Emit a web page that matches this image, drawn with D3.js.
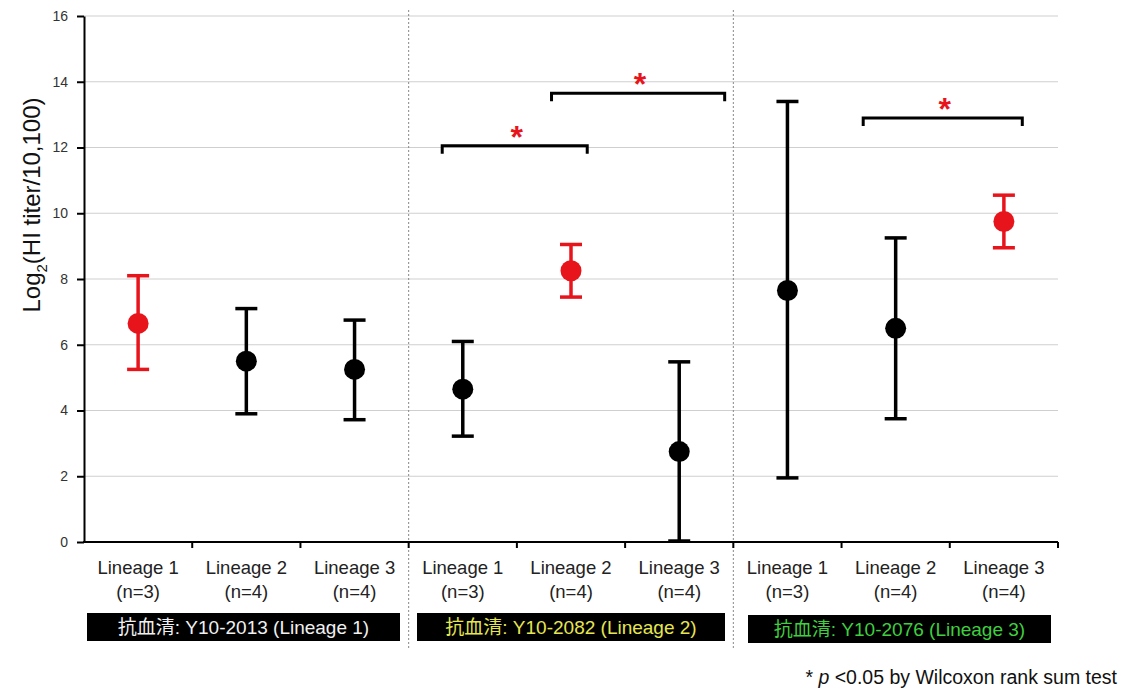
<!DOCTYPE html>
<html>
<head>
<meta charset="utf-8">
<script src="https://cdn.jsdelivr.net/npm/d3@7"></script>
<style>
  body { margin: 0; background: #fff; }
  svg { font-family: Arial, "Liberation Sans", sans-serif; }
</style>
</head>
<body>
<svg id="chart" width="1122" height="690"></svg>
<script>
// categories, in plot order
const lineages = ["Lineage 1", "Lineage 2", "Lineage 3"];
const counts = ["(n=3)", "(n=4)", "(n=4)", "(n=3)", "(n=4)", "(n=4)", "(n=3)", "(n=4)", "(n=4)"];
const sera = ["抗血清: Y10-2013 (Lineage 1)", "抗血清: Y10-2082 (Lineage 2)", "抗血清: Y10-2076 (Lineage 3)"];
const seraColors = ["#f0f0f0", "#e6e650", "#3fcf3f"];

// mean and error bar bounds per category
const means = [6.65, 5.5, 5.25, 4.65, 8.25, 2.75, 7.65, 6.5, 9.75];
const upper = [8.1, 7.1, 6.75, 6.1, 9.05, 5.48, 13.4, 9.25, 10.55];
const lower = [5.25, 3.9, 3.72, 3.22, 7.45, 0.03, 1.95, 3.75, 8.95];
const homologous = [true, false, false, false, true, false, false, false, true];

// significance brackets, ends in category units (0..9), height in log2 units
const bracketStart = [3.31, 4.32, 7.2];
const bracketEnd = [4.65, 5.92, 8.67];
const bracketLevel = [12.05, 13.65, 12.9];

const yTicks = [0, 2, 4, 6, 8, 10, 12, 14, 16];

const svg = d3.select("#chart");
const margin = {left: 84, right: 1058, top: 16, bottom: 542};

const x = d3.scaleBand()
  .domain(d3.range(means.length))
  .range([margin.left, margin.right]);

// continuous version of the category axis, for brackets
const xc = d3.scaleLinear()
  .domain([0, means.length])
  .range([margin.left, margin.right]);

const y = d3.scaleLinear()
  .domain([0, 16])
  .range([margin.bottom, margin.top]);

// gridlines
svg.append("g")
  .selectAll("line")
  .data(yTicks.filter(d => d > 0))
  .enter().append("line")
  .attr("x1", margin.left).attr("x2", margin.right)
  .attr("y1", d => y(d)).attr("y2", d => y(d))
  .attr("stroke", "#cfcfcf")
  .attr("stroke-width", 1);

// group separators
[3, 6].forEach(i => {
  svg.append("line")
    .attr("x1", x(i)).attr("x2", x(i))
    .attr("y1", 10).attr("y2", 650)
    .attr("stroke", "#888")
    .attr("stroke-width", 1)
    .attr("stroke-dasharray", "2,2");
});

// y axis
const yAxis = svg.append("g")
  .attr("transform", `translate(${margin.left},0)`)
  .call(d3.axisLeft(y).tickValues(yTicks).tickSize(7).tickSizeOuter(0).tickPadding(9));
yAxis.select(".domain").attr("stroke", "#000").attr("stroke-width", 2);
yAxis.selectAll(".tick line").attr("stroke", "#000").attr("stroke-width", 2);
yAxis.selectAll(".tick text").attr("font-size", 14).attr("fill", "#333")
  .attr("font-family", "Arial, 'Liberation Sans', sans-serif");

// x axis with ticks at category boundaries
svg.append("line")
  .attr("x1", margin.left - 1).attr("x2", margin.right)
  .attr("y1", y(0)).attr("y2", y(0))
  .attr("stroke", "#000").attr("stroke-width", 2);
svg.append("g")
  .selectAll("line")
  .data(d3.range(1, means.length + 1))
  .enter().append("line")
  .attr("x1", d => xc(d)).attr("x2", d => xc(d))
  .attr("y1", y(0)).attr("y2", y(0) + 6)
  .attr("stroke", "#000").attr("stroke-width", 2);

// category labels
const cats = svg.append("g")
  .selectAll("g")
  .data(counts)
  .enter().append("g")
  .attr("transform", (d, i) => `translate(${x(i) + x.bandwidth() / 2},0)`);
cats.append("text")
  .attr("y", 574).attr("text-anchor", "middle")
  .attr("font-size", 18.5).attr("fill", "#222")
  .text((d, i) => lineages[i % 3]);
cats.append("text")
  .attr("y", 598).attr("text-anchor", "middle")
  .attr("font-size", 18.5).attr("fill", "#222")
  .text(d => d);

// antiserum boxes
const boxes = [[87, 400, 613], [417, 725, 613], [748, 1051, 615]];
sera.forEach((s, i) => {
  const b = boxes[i];
  svg.append("rect")
    .attr("x", b[0]).attr("y", b[2])
    .attr("width", b[1] - b[0]).attr("height", 28)
    .attr("fill", "#000");
  svg.append("text")
    .attr("x", (b[0] + b[1]) / 2).attr("y", b[2] + 21)
    .attr("text-anchor", "middle")
    .attr("font-size", 19)
    .attr("font-family", "Arial, 'Liberation Sans', 'Noto Sans CJK JP', sans-serif")
    .attr("fill", seraColors[i])
    .text(s);
});

// error bars and points
const cap = 11;
const col = i => homologous[i] ? "#e8141c" : "#000";
const marks = svg.append("g")
  .selectAll("g")
  .data(means)
  .enter().append("g")
  .attr("transform", (d, i) => `translate(${x(i) + x.bandwidth() / 2},0)`);
marks.append("line")
  .attr("y1", (d, i) => y(upper[i])).attr("y2", (d, i) => y(lower[i]))
  .attr("stroke", (d, i) => col(i))
  .attr("stroke-width", 3.5);
marks.append("line")
  .attr("x1", -cap).attr("x2", cap)
  .attr("y1", (d, i) => y(upper[i])).attr("y2", (d, i) => y(upper[i]))
  .attr("stroke", (d, i) => col(i))
  .attr("stroke-width", 3.5);
marks.append("line")
  .attr("x1", -cap).attr("x2", cap)
  .attr("y1", (d, i) => y(lower[i])).attr("y2", (d, i) => y(lower[i]))
  .attr("stroke", (d, i) => col(i))
  .attr("stroke-width", 3.5);
marks.append("circle")
  .attr("cy", d => y(d))
  .attr("r", 10.5)
  .attr("fill", (d, i) => col(i));

// significance brackets
bracketLevel.forEach((lv, i) => {
  const xa = xc(bracketStart[i]);
  const xb = xc(bracketEnd[i]);
  const yy = y(lv);
  svg.append("path")
    .attr("d", `M${xa},${yy + 8}V${yy}H${xb}V${yy + 8}`)
    .attr("fill", "none").attr("stroke", "#000").attr("stroke-width", 3);
  svg.append("text")
    .attr("x", (xa + xb) / 2 + 2).attr("y", yy + 2)
    .attr("text-anchor", "middle")
    .attr("font-size", 32).attr("font-weight", "bold")
    .attr("fill", "#e8141c")
    .text("*");
});

// y axis title
const yt = svg.append("text")
  .attr("transform", "translate(40,205) rotate(-90)")
  .attr("text-anchor", "middle")
  .attr("font-size", 24).attr("fill", "#111");
yt.append("tspan").text("Log");
yt.append("tspan").attr("font-size", 15).attr("dy", 7).text("2");
yt.append("tspan").attr("dy", -7).text("(HI titer/10,100)");

// footnote
const fn = svg.append("text")
  .attr("x", 1117).attr("y", 684)
  .attr("text-anchor", "end")
  .attr("font-size", 19.5).attr("fill", "#111");
fn.append("tspan").text("* ");
fn.append("tspan").attr("font-style", "italic").text("p");
fn.append("tspan").text(" <0.05 by Wilcoxon rank sum test");
</script>
</body>
</html>
